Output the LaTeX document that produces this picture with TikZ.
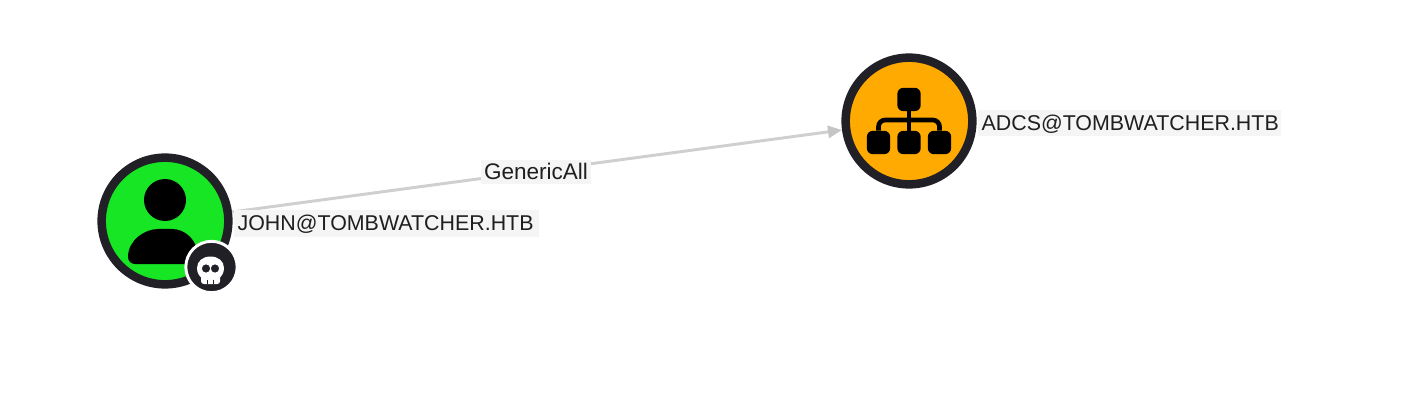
\documentclass[tikz,border=0pt]{standalone}
\usepackage{fontspec}
\setmainfont{Liberation Sans}
\usetikzlibrary{arrows.meta}
\definecolor{ringc}{HTML}{222027}
\definecolor{greenc}{HTML}{17E625}
\definecolor{orangec}{HTML}{FFAA00}
\definecolor{edgec}{HTML}{CFCFCF}
\definecolor{labelbg}{HTML}{F5F5F5}
\definecolor{textc}{HTML}{1F1F1F}
\tikzset{
  graphnode/.style={circle,draw=ringc,line width=6.4pt,minimum size=95pt,inner sep=0pt,outer sep=3.2pt},
  nodelabel/.style={fill=labelbg,text=textc,font=\fontsize{16.05pt}{18pt}\selectfont,anchor=west,inner ysep=0pt,inner xsep=2.5pt,text height=15.5pt,text depth=4.5pt},
  edgeline/.style={draw=edgec,line width=2.2pt,-{Triangle[length=10.5pt,width=9pt,color=edgec!95!black]}},
  glyph/.style={fill=black,draw=none},
  hbox/.style={fill=black,draw=none,rounded corners=4.5pt,minimum width=17.5pt,minimum height=17.5pt,inner sep=0pt},
  hlink/.style={draw=black,line width=3.5pt,rounded corners=5pt}
}
\begin{document}
\begin{tikzpicture}[x=0.75pt,y=-0.75pt]
\useasboundingbox[fill=white] (0,0) rectangle (1401,420);
\node[graphnode,fill=greenc] (john) at (165,221) {};
\node[graphnode,fill=orangec] (adcs) at (909,121) {};
\draw[edgeline] (john) -- (adcs);
% labels
\node[nodelabel,text width=223.5pt] (johnlabel) at (234,223.500) {JOHN@TOMBWATCHER.HTB};
\node[nodelabel,text width=222pt] (adcslabel) at (978,123) {ADCS@TOMBWATCHER.HTB};
\node[nodelabel,anchor=center,font=\fontsize{16.9pt}{18pt}\selectfont,text height=14.5pt,text depth=3.5pt,inner xsep=2.5pt] (edgelabel) at (536,172) {GenericAll};
% person glyph
\fill[glyph] (165,200) circle[radius=21];
\fill[glyph] (128,257) .. controls (128,240) and (145,229) .. (158,229) -- (172,229)
  .. controls (185,229) and (198,240) .. (198,257) -- (198,264) -- (135,264)
  .. controls (131,264) and (128,261) .. (128,257) -- cycle;
% hierarchy glyph
\node[hbox] (htop) at (909,99.5) {};
\node[hbox] (hleft) at (878.5,142.5) {};
\node[hbox] (hmid) at (909,142.5) {};
\node[hbox] (hright) at (939.5,142.5) {};
\draw[hlink] (htop.south) -- (hmid.north);
\draw[hlink] (hleft.north) -- (hleft.north |- 0,120) -- (hright.north |- 0,120) -- (hright.north);
% badge
\node[circle,fill=ringc,draw=white,line width=2.2pt,minimum size=38.5pt,inner sep=0pt] (badge) at (211.5,267) {};
\fill[white,even odd rule] (197,268) .. controls (197,261) and (203,256.5) .. (210.5,256.5)
  .. controls (218,256.5) and (224,261) .. (224,268)
  .. controls (224,273) and (221.5,276) .. (220,277.5) -- (220,281)
  .. controls (220,283) and (219,284) .. (217,284) -- (204,284)
  .. controls (202,284) and (201,283) .. (201,281) -- (201,277.5)
  .. controls (199.500,276) and (197,273) .. (197,268) -- cycle
  (206,268.5) circle[radius=4.2] (215,268.5) circle[radius=4.2];
\draw[ringc,line width=0.7pt] (207.5,279.5) -- (207.5,284) (213.5,279.5) -- (213.5,284);
\end{tikzpicture}
\end{document}
